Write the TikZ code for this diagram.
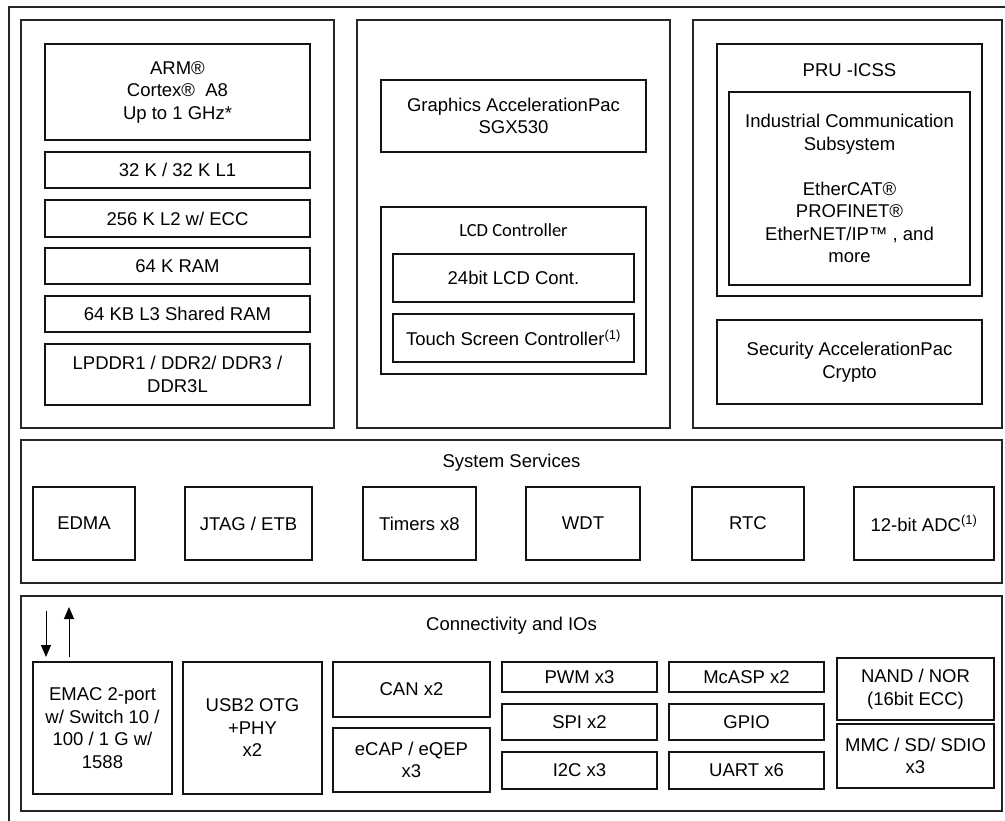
\documentclass[tikz,border=0pt]{standalone}
\usepackage{fontspec}
\setmainfont{Liberation Sans}
\newfontfamily\calfont{Carlito}
\usetikzlibrary{arrows.meta}
\definecolor{LineClr}{rgb}{0.08,0.08,0.08}
\definecolor{FrameClr}{rgb}{0.15,0.15,0.15}

\begin{document}
\begin{tikzpicture}[x=1pt,y=-1pt,
  txt/.style={font=\fontsize{18.5}{22.5}\selectfont,align=center,inner sep=0pt},
  box/.style={txt,draw=LineClr,line width=1.5pt,rectangle},
  panel/.style={draw=FrameClr,line width=1.3pt,rectangle,inner sep=0pt},
  sig/.style={line width=1pt,-{Triangle[width=10pt,length=12pt]}}]
\useasboundingbox (0,0) rectangle (1005,821);

\draw[line width=2pt,color=FrameClr] (9,7) rectangle (1015,832);

\node[panel,minimum width=313,minimum height=408] (CPU) at (177.5,224) {};
\node[panel,minimum width=313,minimum height=408] (GFX) at (513.5,224) {};
\node[panel,minimum width=309,minimum height=408] (PRU) at (847.5,224) {};
\node[panel,minimum width=981,minimum height=143] (SYS) at (511.5,511.5) {};
\node[panel,minimum width=981,minimum height=215] (CON) at (511.5,703.5) {};

\node[box,minimum width=265,minimum height=96] (ARM) at (177.5,92) {ARM®\\Cortex®~ A8\\Up to 1 GHz*};
\node[box,minimum width=265,minimum height=36] (LI) at (177.5,170) {32 K / 32 K L1};
\node[box,minimum width=265,minimum height=37] (LII) at (177.5,218.5) {256 K L2 w/ ECC};
\node[box,minimum width=265,minimum height=36] (RAM) at (177.5,266) {64 K RAM};
\node[box,minimum width=265,minimum height=36] (LIII) at (177.5,314) {64 KB L3 Shared RAM};
\node[box,minimum width=265,minimum height=61] (DDR) at (177.5,374.5) {LPDDR1 / DDR2/ DDR3 /\\DDR3L};

\node[box,minimum width=265,minimum height=72] (SGX) at (513.5,116) {Graphics AccelerationPac\\SGX530};
\node[box,minimum width=265,minimum height=167] (LCD) at (513.5,290.5) {};
\node[txt] (LCDlbl) at (513.5,230) {\calfont LCD Controller};
\node[box,minimum width=241,minimum height=48] (LCDC) at (513.5,278) {24bit LCD Cont.};
\node[box,minimum width=241,minimum height=48] (TSC) at (513.5,338) {Touch Screen Controller\textsuperscript{(1)}};

\node[box,minimum width=265,minimum height=252] (ICSS) at (849.5,170) {};
\node[txt] (ICSSlbl) at (849.5,70) {PRU -ICSS};
\node[box,minimum width=241,minimum height=193] (ICS) at (849.5,188.5) {Industrial Communication\\Subsystem\\[22.5pt]EtherCAT®\\PROFINET®\\EtherNET/IP™ , and\\more};
\node[box,minimum width=265,minimum height=84] (SEC) at (849.5,362) {Security AccelerationPac\\Crypto};

\node[txt] (SYSlbl) at (511.5,463) {System Services};
\node[box,minimum width=102,minimum height=73] (EDMA) at (84,523.5) {EDMA};
\node[box,minimum width=127,minimum height=73] (JTAG) at (248.5,523.5) {JTAG / ETB};
\node[box,minimum width=113,minimum height=73] (TMR) at (419.5,523.5) {Timers x8};
\node[box,minimum width=114,minimum height=73] (WDT) at (583,523.5) {WDT};
\node[box,minimum width=112,minimum height=73] (RTC) at (748,523.5) {RTC};
\node[box,minimum width=140,minimum height=73] (ADC) at (924,523.5) {12-bit ADC\textsuperscript{(1)}};

\node[txt] (CONlbl) at (511.5,626) {Connectivity and IOs};
\node[box,minimum width=139,minimum height=132] (EMAC) at (102.5,728) {EMAC 2-port\\w/ Switch 10 /\\100 / 1 G w/\\1588};
\node[box,minimum width=139,minimum height=132] (USB) at (252.5,728) {USB2 OTG\\+PHY\\x2};
\node[box,minimum width=157,minimum height=55] (CAN) at (411.5,689.5) {CAN x2};
\node[box,minimum width=157,minimum height=64] (ECAP) at (411.5,760) {eCAP / eQEP\\x3};
\node[box,minimum width=155,minimum height=30] (PWM) at (579.5,677) {PWM x3};
\node[box,minimum width=155,minimum height=36] (SPI) at (579.5,722) {SPI x2};
\node[box,minimum width=155,minimum height=37] (IIC) at (579.5,770.5) {I2C x3};
\node[box,minimum width=155,minimum height=30] (MCASP) at (746.5,677) {McASP x2};
\node[box,minimum width=155,minimum height=36] (GPIO) at (746.5,722) {GPIO};
\node[box,minimum width=155,minimum height=37] (UART) at (746.5,770.5) {UART x6};
\node[box,minimum width=157,minimum height=62] (NAND) at (915.5,689) {NAND / NOR\\(16bit ECC)};
\node[box,minimum width=157,minimum height=64] (MMC) at (915.5,756) {MMC / SD/ SDIO\\x3};

\coordinate (Din) at (46,611);
\coordinate (Dout) at (46,657);
\coordinate (Uin) at (69,657);
\coordinate (Uout) at (69,607);
\draw[sig] (Din) -- (Dout);
\draw[sig] (Uin) -- (Uout);

\end{tikzpicture}
\end{document}
